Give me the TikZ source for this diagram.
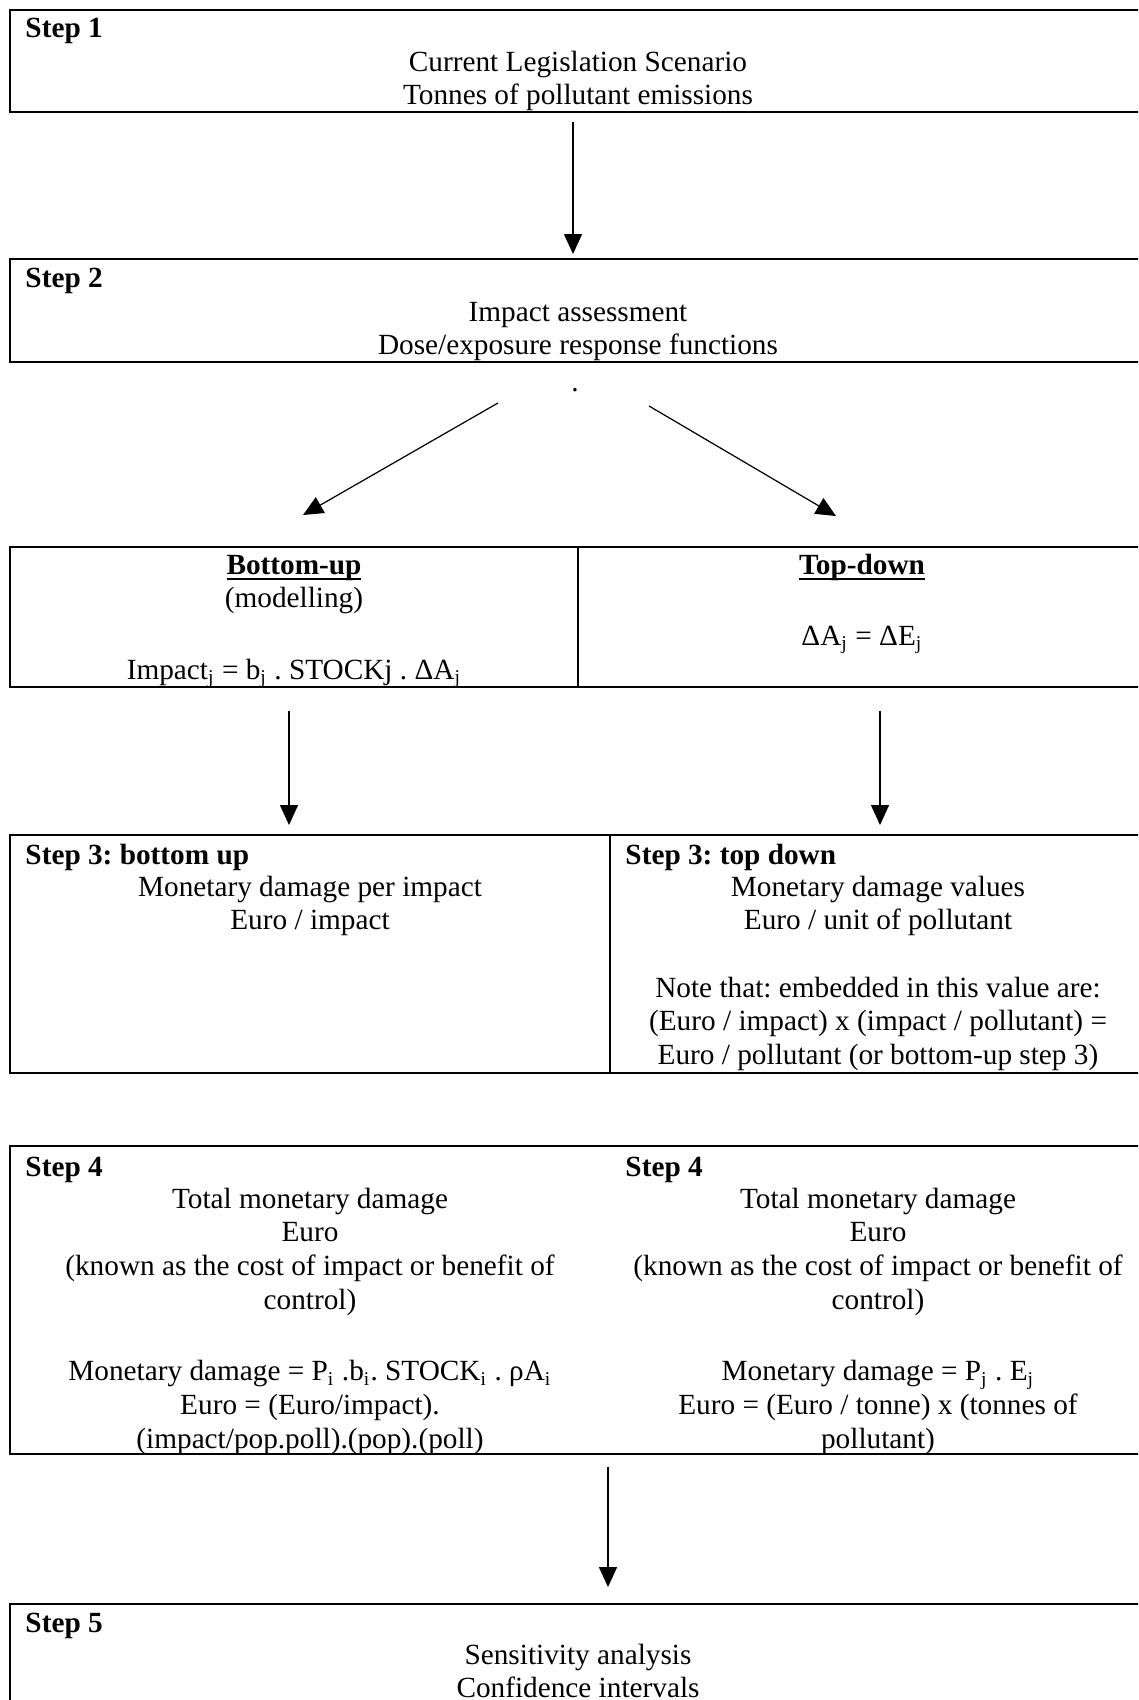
\documentclass[tikz,border=0pt]{standalone}
\usepackage{fontspec}
\setmainfont{Liberation Serif}
\usetikzlibrary{arrows.meta,calc,fit}
\frenchspacing
\newcommand{\ulhead}[1]{\setbox0=\hbox{#1}\rlap{\rule[-2.4pt]{\wd0}{0.9pt}}\box0}

\begin{document}
\begin{tikzpicture}[x=0.41pt, y=-0.41pt,
    every node/.style={font=\fontsize{12pt}{13.8pt}\selectfont, inner sep=0pt},
    box/.style={draw, line width=0.8pt, inner sep=0pt},
    steplabel/.style={anchor=base west, font=\fontsize{12pt}{13.8pt}\selectfont\bfseries},
    centertext/.style={anchor=north, align=center},
    arrow/.style={line width=0.5pt, -{Triangle[length=8.2pt,width=7.4pt]}}]
    \useasboundingbox (0,0) rectangle (1138,1700);
    \clip (0,0) rectangle (1138,1700);

    % boxes
    \node[box, fit={(10,10) (1146,112)}] (s1) {};
    \node[box, fit={(10,259) (1146,362)}] (s2) {};
    \node[box, fit={(10,547) (578,687)}] (bu) {};
    \node[box, fit={(578,547) (1146,687)}] (td) {};
    \node[box, fit={(10,835) (610,1073)}] (s3b) {};
    \node[box, fit={(610,835) (1146,1073)}] (s3t) {};
    \node[box, fit={(10,1146) (1146,1454)}] (s4) {};
    \node[box, fit={(10,1604) (1146,1740)}] (s5) {};

    % step 1 and 2
    \node[steplabel] (l1) at (25,38) {Step 1};
    \node[centertext] (t1) at (578,47) {\strut Current Legislation Scenario\\Tonnes of pollutant emissions};
    \node[steplabel] (l2) at (25,288) {Step 2};
    \node[centertext] (t2) at (578,297) {\strut Impact assessment\\Dose/exposure response functions};
    \node[anchor=base] (dot) at (575,391) {.};

    % bottom-up / top-down
    \node[centertext] (tbu) at (294,550) {\strut\ulhead{\textbf{Bottom-up}}\\(modelling)\\[15.5pt]Impact\textsubscript{j} = b\textsubscript{j} . STOCKj . ΔA\textsubscript{j}};
    \node[centertext] (ttd) at (862,550) {\strut\ulhead{\textbf{Top-down}}\\[15.5pt]ΔA\textsubscript{j} = ΔE\textsubscript{j}};

    % step 3
    \node[steplabel] (l3b) at (25,864) {Step 3: bottom up};
    \node[centertext] (t3b) at (310,872) {\strut Monetary damage per impact\\Euro / impact};
    \node[steplabel] (l3t) at (625,864) {Step 3: top down};
    \node[centertext] (t3t) at (878,872) {\strut Monetary damage values\\Euro / unit of pollutant\\[13.8pt]Note that: embedded in this value are:\\(Euro / impact) x (impact / pollutant) =\\Euro / pollutant (or bottom-up step 3)};

    % step 4
    \node[steplabel] (l4b) at (25,1176) {Step 4};
    \node[centertext] (t4b) at (310,1184) {\strut Total monetary damage\\Euro\\(known as the cost of impact or benefit of\\control)\\[15.7pt]Monetary damage = P\textsubscript{i} .b\textsubscript{i}. STOCK\textsubscript{i} . ρA\textsubscript{i}\\Euro = (Euro/impact).\\(impact/pop.poll).(pop).(poll)};
    \node[steplabel] (l4t) at (625,1176) {Step 4};
    \node[centertext] (t4t) at (878,1184) {\strut Total monetary damage\\Euro\\(known as the cost of impact or benefit of\\control)\\[15.7pt]Monetary damage = P\textsubscript{j} . E\textsubscript{j}\\Euro = (Euro / tonne) x (tonnes of\\pollutant)};

    % step 5
    \node[steplabel] (l5) at (25,1632) {Step 5};
    \node[centertext] (t5) at (578,1640) {\strut Sensitivity analysis\\Confidence intervals};

    % arrows
    \draw[arrow] ($(s1.south)+(-5,9)$) -- ($(s2.north)+(-5,-4)$);
    \draw[arrow] ($(s2.south)+(-80,40)$) -- ($(bu.north)+(9,-31)$);
    \draw[arrow] ($(s2.south)+(71,43)$) -- ($(td.north)+(-26,-30)$);
    \draw[arrow] ($(bu.south)+(-5,23)$) -- ($(s3b.north)+(-21,-9)$);
    \draw[arrow] ($(td.south)+(18,23)$) -- ($(s3t.north)+(2,-9)$);
    \draw[arrow] ($(s4.south)+(30,12)$) -- ($(s5.north)+(30,-16)$);
\end{tikzpicture}
\end{document}
